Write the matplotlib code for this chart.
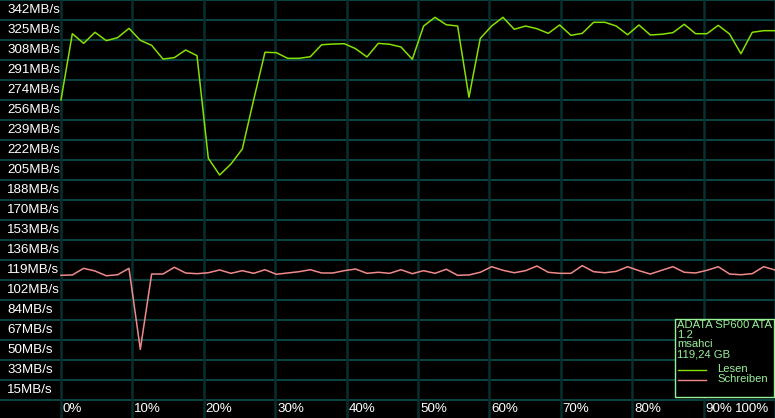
import matplotlib
matplotlib.use('Agg')
import matplotlib.pyplot as plt
import matplotlib.transforms as mtransforms
from matplotlib.patches import Rectangle
import numpy as np

###  benchmark values, 64 samples across the disk (read = Lesen, write = Schreiben)
lesen = [273.2, 330.2, 321.9, 331.4, 324.2, 326.8, 334.8, 324.5, 320.2, 308.4,
         309.6, 316.2, 311.3, 223.0, 208.6, 218.1, 231.0, 273.2, 314.2, 313.9,
         309.0, 309.0, 310.4, 320.7, 321.3, 321.6, 317.3, 310.2, 321.9, 321.1,
         318.8, 308.2, 336.8, 344.3, 337.9, 336.8, 275.5, 326.2, 336.8, 344.3,
         334.0, 336.8, 334.5, 330.5, 337.7, 328.8, 330.5, 340.0, 340.0, 336.8,
         329.3, 337.7, 329.1, 329.7, 331.1, 338.3, 330.2, 330.2, 337.4, 329.9,
         313.0, 331.4, 332.8, 332.8]
schreiben = [122.3, 122.6, 128.3, 126.0, 121.9, 122.8, 128.3, 58.6, 123.4, 123.4,
             129.2, 124.3, 123.7, 124.5, 126.9, 124.0, 126.3, 124.0, 127.1, 123.2,
             124.3, 125.4, 127.1, 124.3, 124.3, 126.3, 127.7, 124.0, 124.9, 124.0,
             127.1, 123.7, 126.3, 124.0, 127.5, 122.3, 122.6, 124.9, 129.7, 126.6,
             124.5, 126.3, 130.3, 124.9, 124.0, 124.0, 130.6, 125.4, 124.5, 125.7,
             129.7, 126.3, 123.4, 126.6, 129.7, 124.9, 124.3, 126.6, 129.7, 123.4,
             122.8, 123.7, 129.7, 126.9]
pos = np.linspace(0, 100, len(lesen))

y_labels = ['342MB/s', '325MB/s', '308MB/s', '291MB/s', '274MB/s', '256MB/s',
            '239MB/s', '222MB/s', '205MB/s', '188MB/s', '170MB/s', '153MB/s',
            '136MB/s', '119MB/s', '102MB/s', '84MB/s', '67MB/s', '50MB/s',
            '33MB/s', '15MB/s']
x_ticks = [0, 10, 20, 30, 40, 50, 60, 70, 80, 90, 100]
x_labels = ['0%', '10%', '20%', '30%', '40%', '50%', '60%', '70%', '80%', '90%', '100%']
info = ['ADATA SP600 ATA', '1.2', 'msahci', '119,24 GB']

YTOP = 359.2     #  value at the top edge of the graph
YSTEP = 17.21    #  MB/s per grid band

W, H = 775, 418
PX = 714 / 100.0        #  pixels per percent
PY = YSTEP / 20.0       #  MB/s per pixel

GREEN = '#86e000'
PINK = '#f08a8a'
HGRID = '#0b4746'
VGRID = '#06302f'
LEGC = '#98f098'

fig = plt.figure(figsize=(W/100, H/100), dpi=100, facecolor='black')
ax = fig.add_axes([0, 0, 1, 1])
ax.set_facecolor('black')
ax.set_xlim(-61/PX, 100 + 0.01)
ax.set_ylim(YTOP - H*PY, YTOP)
ax.axis('off')

###  grid covers the whole window, labels included
for k in range(21):
    ax.axhline(YTOP - k*YSTEP, color=HGRID, lw=1.4, zorder=1)
for t in x_ticks:
    ax.axvline(t, color=VGRID, lw=1.8, zorder=1)

ax.plot(pos, schreiben, color=PINK, lw=1.1, zorder=3)
ax.plot(pos, lesen, color=GREEN, lw=1.1, zorder=3)

###  y labels sit in the middle of each band
ytr = mtransforms.blended_transform_factory(fig.transFigure, ax.transData)
for k, lab in enumerate(y_labels):
    ax.text(7/W, YTOP - YSTEP*(k + 0.5), lab, transform=ytr, color='white',
            fontsize=9.6, family='Liberation Sans', ha='left', va='center')

xtr = mtransforms.blended_transform_factory(ax.transData, fig.transFigure)
for t, lab in zip(x_ticks, x_labels):
    if t == 100:
        tr = mtransforms.offset_copy(xtr, fig=fig, x=-6, y=0, units='dots')
        ax.text(t, 9/H, lab, transform=tr, color='white', fontsize=9.6,
                family='Liberation Sans', ha='right', va='center')
    else:
        tr = mtransforms.offset_copy(xtr, fig=fig, x=2, y=0, units='dots')
        ax.text(t, 9/H, lab, transform=tr, color='white', fontsize=9.6,
                family='Liberation Sans', ha='left', va='center')

###  drive info box, bottom right
box = Rectangle((675/W, (H-397)/H), 99/W, 78/H, transform=fig.transFigure,
                facecolor='black', edgecolor=LEGC, lw=1.0, zorder=5)
ax.add_patch(box)
for k, s in enumerate(info):
    fig.text(677/W, (H - 325 - 9.7*k)/H, s, color=LEGC, fontsize=8.1,
             family='Liberation Sans', ha='left', va='center', zorder=6)
for k, (s, c) in enumerate([('Lesen', GREEN), ('Schreiben', PINK)]):
    yy = (H - 369.5 - 10*k)/H
    ax.plot([678/W, 706/W], [yy, yy], transform=fig.transFigure, color=c,
            lw=1.0, zorder=6)
    fig.text(717/W, yy, s, color=LEGC, fontsize=8.1,
             family='Liberation Sans', ha='left', va='center', zorder=6)

fig.savefig('out.png', dpi=100, facecolor='black')
